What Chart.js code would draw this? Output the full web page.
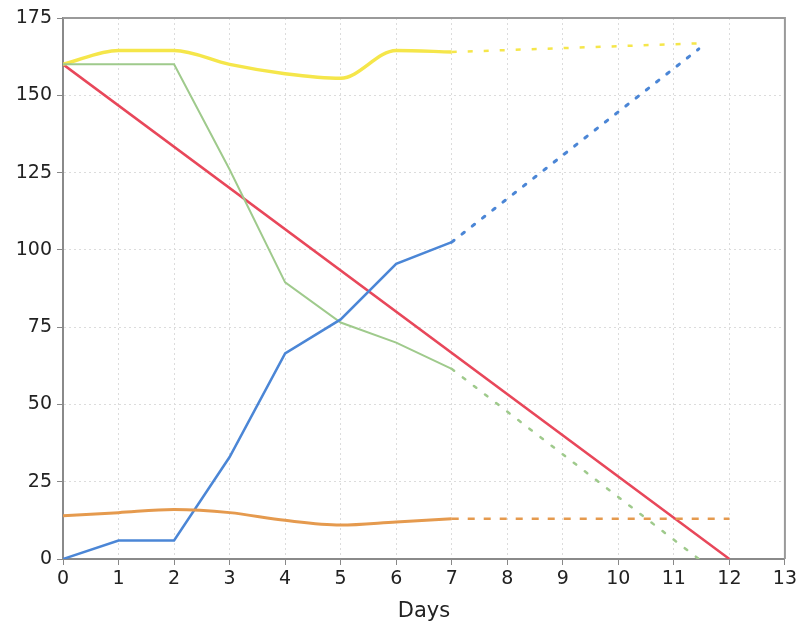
<!DOCTYPE html>
<html><head><meta charset="utf-8">
<script src="https://cdn.jsdelivr.net/npm/chart.js@4"></script>
<style>html,body{margin:0;padding:0;background:#fff}#wrap{width:800px;height:629px}</style>
</head><body><div id="wrap"><canvas id="c" width="800" height="629"></canvas></div>
<script>
const days = [0,1,2,3,4,5,6,7];
const yellowVals = [160,164.5,164.5,160,157,155.5,164.5,164];
const greenVals = [160,160,160,126,89.5,76.5,70,61.5];
const blueVals = [0,6,6,33,66.5,77.5,95.5,102.5];
const orangeVals = [14,15,16,15,12.5,11,12,13];
const redDays = [0,12];
const redVals = [160,0];
const yellowProjDays = [7,11.45]; const yellowProjVals = [164,166.8];
const blueProjDays = [7,11.45]; const blueProjVals = [102.5,165];
const greenProjDays = [7,11.45]; const greenProjVals = [61.5,0];
const orangeProjDays = [7,12]; const orangeProjVals = [13,13];
const xTicks = [0,1,2,3,4,5,6,7,8,9,10,11,12,13];
const yTicks = [0,25,50,75,100,125,150,175];

const pts = (xs, ys) => xs.map((x,i)=>({x, y: ys[i]}));
const C = {yellow:'#f5e64a', green:'#9fca8c', blue:'#4b86d6', orange:'#e59a4e', red:'#e8475a'};

const framePlugin = {id:'frame', afterDraw(ch){const a=ch.chartArea,c=ch.ctx;c.save();c.strokeStyle='#9a9a9a';c.lineWidth=2;c.beginPath();c.moveTo(a.left,a.top);c.lineTo(a.right,a.top);c.lineTo(a.right,a.bottom);c.stroke();c.restore();}};

new Chart(document.getElementById('c'), {
  type:'line',
  data:{datasets:[
    {data:pts(yellowProjDays,yellowProjVals), borderColor:C.yellow, borderWidth:2.5, borderDash:[5,11], pointRadius:0},
    {data:pts(orangeProjDays,orangeProjVals), borderColor:C.orange, borderWidth:2.5, borderDash:[7,9], pointRadius:0},
    {data:pts(greenProjDays,greenProjVals), borderColor:C.green, borderWidth:2.5, borderDash:[3,11], borderCapStyle:'round', pointRadius:0},
    {data:pts(blueProjDays,blueProjVals), borderColor:C.blue, borderWidth:3, borderDash:[3,10], borderCapStyle:'round', pointRadius:0},
    {data:pts(days,orangeVals), borderColor:C.orange, borderWidth:3, cubicInterpolationMode:'monotone', pointRadius:0},
    {data:pts(days,blueVals), borderColor:C.blue, borderWidth:2.5, tension:0, pointRadius:0},
    {data:pts(days,greenVals), borderColor:C.green, borderWidth:2, tension:0, pointRadius:0},
    {data:pts(days,yellowVals), borderColor:C.yellow, borderWidth:3.5, cubicInterpolationMode:'monotone', pointRadius:0},
    {data:pts(redDays,redVals), borderColor:C.red, borderWidth:2.5, pointRadius:0}
  ]},
  options:{
    responsive:false, animation:false,
    layout:{padding:{left:0,right:15,top:18,bottom:0}},
    plugins:{legend:{display:false},tooltip:{enabled:false}},
    scales:{
      x:{type:'linear',min:0,max:13,
        afterBuildTicks:s=>{s.ticks=xTicks.map(v=>({value:v}));},
        afterFit:s=>{s.height=70;},
        ticks:{color:'#222',font:{family:'DejaVu Sans',size:19},padding:3,maxRotation:0},
        grid:{color:'#dcdcdc',lineWidth:1,tickLength:6,tickColor:'#888'},
        border:{display:true,color:'#8a8a8a',width:2,dash:[2,3]},
        title:{display:true,text:'Days',color:'#222',font:{family:'DejaVu Sans',size:21},padding:{top:2,bottom:5}}
      },
      y:{type:'linear',min:0,max:175,
        afterBuildTicks:s=>{s.ticks=yTicks.map(v=>({value:v}));},
        afterFit:s=>{s.width=63;},
        ticks:{color:'#222',font:{family:'DejaVu Sans',size:19},padding:5},
        grid:{color:'#dcdcdc',lineWidth:1,tickLength:6,tickColor:'#888'},
        border:{display:true,color:'#8a8a8a',width:2,dash:[2,3]}
      }
    }
  },
  plugins:[framePlugin]
});
</script></body></html>
